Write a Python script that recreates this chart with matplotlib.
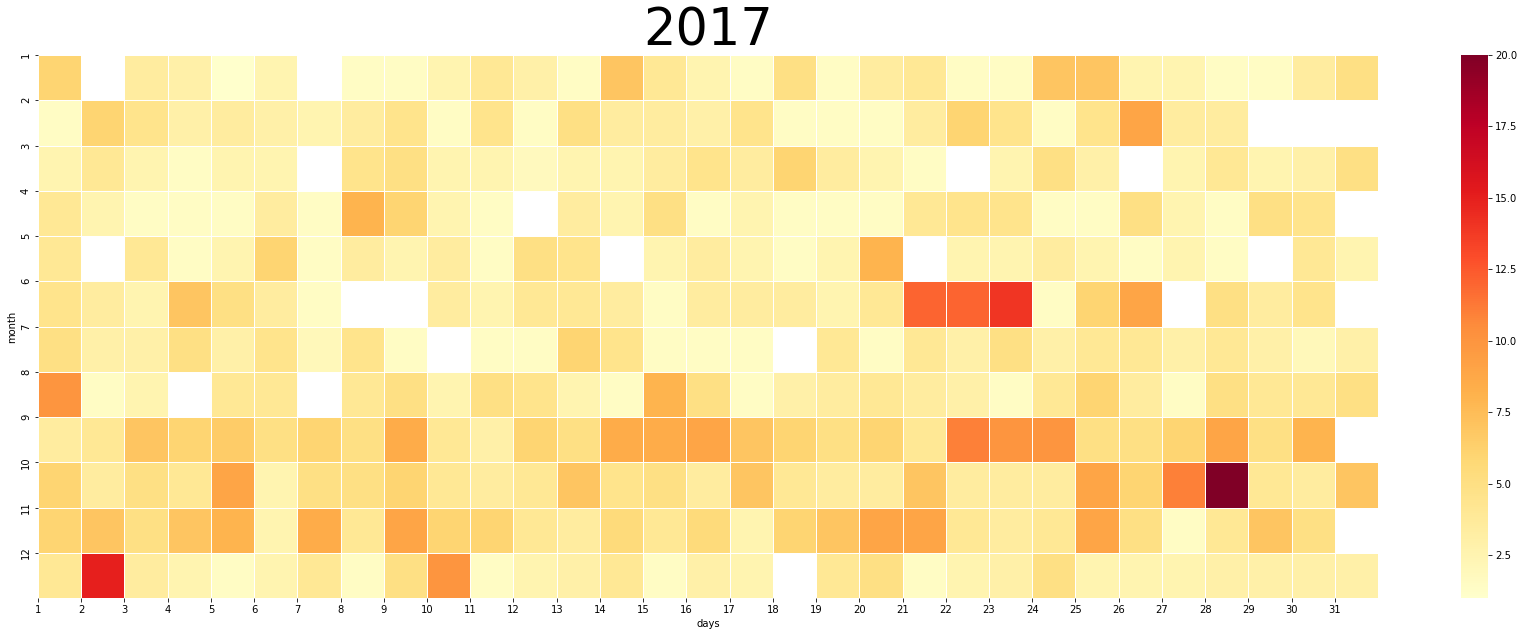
import numpy as np
import matplotlib
matplotlib.use("Agg")
import matplotlib.pyplot as plt
import seaborn as sns

nan = np.nan
year = "2017"
months = list(range(1, 13))
days = list(range(1, 32))

jan = [6, nan, 3.5, 3, 1, 2.5, nan, 1.5, 1.5, 2.5, 4, 3, 1.5, 7, 4, 2.5, 1.5, 5, 1.5, 3.5, 4, 1.5, 1.5, 7, 7, 2.5, 2.5, 1.5, 1.5, 3.5, 5]
feb = [1.5, 6, 4.5, 3, 3.5, 3, 2.5, 3.5, 4.5, 1.5, 4.5, 1.5, 5, 3.5, 3.5, 3, 4.5, 1.5, 1.5, 1.5, 3.5, 6, 4.5, 1.5, 4.5, 9, 3.5, 3.5, nan, nan, nan]
mar = [2.5, 4, 2.5, 1.5, 2.5, 2.5, nan, 4.5, 5, 2.5, 2.5, 1.8, 2.5, 2.5, 3.5, 4.5, 3.5, 6, 3.5, 2.5, 1.5, nan, 2.5, 5, 3, nan, 2.5, 4, 2.5, 3, 5]
apr = [4, 2.5, 1.5, 1.5, 1.5, 3.5, 1.5, 8, 6, 2.5, 1.5, nan, 3.5, 2.5, 5, 1.5, 2.5, 1.5, 1.5, 1.5, 4, 4.5, 4.5, 1.5, 1.5, 5, 2.5, 1.5, 5, 4.5, nan]
may = [4, nan, 4, 1.5, 2.5, 6, 1.5, 3.5, 2.5, 3.5, 1.5, 5, 4.5, nan, 2.5, 3.5, 2.5, 1.5, 2.5, 8, nan, 2.5, 2.5, 3.5, 2.5, 1.5, 2.5, 1.5, nan, 4, 2.5]
jun = [4.5, 3.5, 2.5, 7, 5, 3.5, 1.5, nan, nan, 3.5, 2.5, 4, 4, 3.5, 1.5, 3.5, 3.5, 3.5, 2.5, 4, 12, 12, 14, 1.5, 6, 9, nan, 5, 3.5, 4.5, nan]
jul = [5, 3, 3, 5, 3, 4.5, 2, 4.5, 1.5, nan, 1.5, 1.5, 6, 4.5, 1.5, 1.5, 1.5, nan, 4, 1.5, 4, 3, 5, 3, 4, 4, 3, 4, 3, 2, 3]
aug = [10, 1.5, 2.5, nan, 4, 4, nan, 4, 5, 2.5, 5, 4.5, 2.5, 1.5, 8, 5, 1.5, 3, 3.5, 4, 3.5, 3, 1.5, 4, 6, 3.5, 1.5, 5, 4, 4, 5]
sep = [3.5, 4, 7, 6, 6.5, 5, 6, 5, 8.5, 4, 3, 6, 5, 8.5, 8.5, 9, 7, 6, 5, 6, 4, 11, 10, 10, 5, 5, 6, 9, 5, 8, nan]
oct_ = [6, 3.5, 5, 4, 9, 2.5, 5, 5, 6, 4, 3.5, 4, 7, 4.5, 5, 3.5, 7, 4, 3.5, 3.5, 7, 3.5, 3.5, 3.5, 9, 6, 11, 20, 4, 3.5, 7]
nov = [6, 7, 5, 7, 8, 2.5, 8.5, 4, 9, 6, 6, 4, 3.5, 5.5, 4, 5.5, 2.5, 6, 7, 9, 9, 4, 3.5, 4, 9, 5, 1.5, 4, 7, 5, nan]
dec = [4, 15, 3.5, 2.5, 1.5, 2.5, 4, 1.5, 5, 10, 1.5, 2.5, 3, 4, 1.5, 3, 2.5, nan, 4, 5, 1.5, 2.5, 3, 5, 2.5, 2.5, 2.5, 3, 3, 3, 3]

values = np.array([jan, feb, mar, apr, may, jun, jul, aug, sep, oct_, nov, dec], dtype=float)

W, H = 1524, 637
fig = plt.figure(figsize=(W / 72, H / 72), dpi=72)
ax = fig.add_axes([38 / W, 1 - 598 / H, 1340 / W, 543 / H])
cax = fig.add_axes([1461 / W, 1 - 598 / H, 27 / W, 543 / H])

sns.heatmap(values, ax=ax, cbar_ax=cax, cmap="YlOrRd", vmin=1, vmax=20,
            linewidths=1.0, linecolor="white")

ax.set_xticks(np.arange(len(days)))
ax.set_xticklabels(days, rotation=0)
ax.set_yticks(np.arange(len(months)))
ax.set_yticklabels(months, rotation=90, va="center")
ax.tick_params(labelsize=10)
cax.tick_params(labelsize=10)
ax.set_xlabel("days", fontsize=10)
ax.set_ylabel("month", fontsize=10)
fig.text(708 / W, 1 - 32 / H, year, fontsize=51, ha="center", va="center")

fig.savefig("out.png", dpi=72)
